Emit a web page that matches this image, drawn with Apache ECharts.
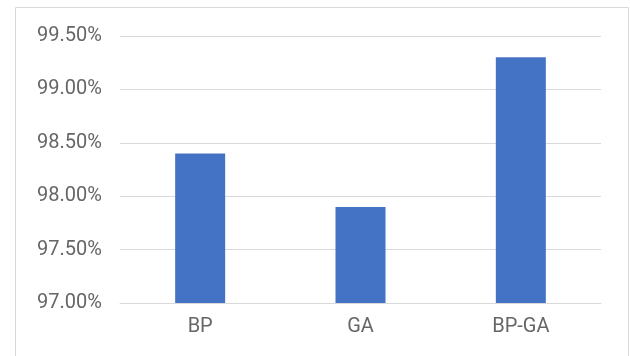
<!DOCTYPE html>
<html>
<head>
<meta charset="utf-8">
<script src="https://cdn.jsdelivr.net/npm/echarts@6/dist/echarts.min.js"></script>
<style>
  html, body { margin: 0; padding: 0; background: #fff; }
  #chart { width: 630px; height: 356px; }
</style>
</head>
<body>
<div id="chart"></div>
<script>
const categories = ['BP', 'GA', 'BP-GA'];
const accuracy = [98.40, 97.90, 99.30];
const yMin = 97.0;
const yMax = 99.5;
const yStep = 0.5;

const chart = echarts.init(document.getElementById('chart'));
chart.setOption({
  animation: false,
  textStyle: { fontFamily: 'Roboto, sans-serif' },
  graphic: [{
    type: 'rect',
    shape: { x: 15.5, y: 7.5, width: 613, height: 400 },
    style: { fill: 'none', stroke: '#d9d9d9', lineWidth: 1 },
    silent: true
  }],
  grid: { left: 120, right: 29, top: 36, bottom: 53 },
  xAxis: {
    type: 'category',
    data: categories,
    axisLine: { lineStyle: { color: '#d9d9d9', width: 1 } },
    axisTick: { show: false },
    axisLabel: { color: '#666666', fontSize: 20, margin: 14 }
  },
  yAxis: {
    type: 'value',
    min: yMin,
    max: yMax,
    interval: yStep,
    axisLine: { show: false },
    axisTick: { show: false },
    splitLine: { lineStyle: { color: '#d9d9d9', width: 1 } },
    axisLabel: {
      color: '#666666',
      fontSize: 20,
      margin: 18,
      formatter: v => v.toFixed(2) + '%'
    }
  },
  series: [{
    type: 'bar',
    data: accuracy,
    barWidth: 50,
    itemStyle: { color: '#4472C4' }
  }]
});
</script>
</body>
</html>
